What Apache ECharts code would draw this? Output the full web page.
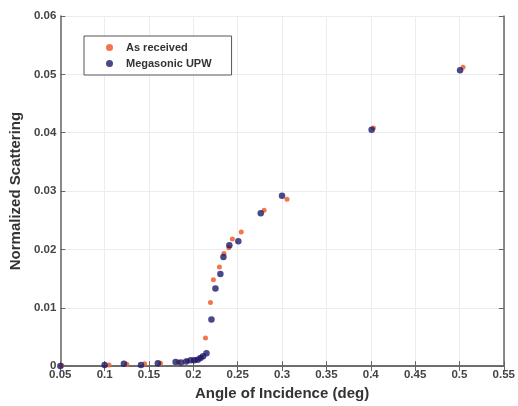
<!DOCTYPE html>
<html>
<head>
<meta charset="utf-8">
<script src="https://cdn.jsdelivr.net/npm/echarts@6/dist/echarts.min.js"></script>
<style>html,body{margin:0;padding:0;background:#fff;}#c{width:518px;height:406px;}</style>
</head>
<body>
<div id="c"></div>
<script>
var seriesNames = ["As received", "Megasonic UPW"];
var asReceived = [
  [0.052, 0.0001], [0.105, 0.0002], [0.125, 0.0003], [0.145, 0.0004], [0.163, 0.0005],
  [0.183, 0.0007], [0.193, 0.0009], [0.203, 0.0011], [0.209, 0.0015], [0.2137, 0.0048],
  [0.2193, 0.0109], [0.2226, 0.0148], [0.2294, 0.0170], [0.2345, 0.0193], [0.240, 0.0203],
  [0.244, 0.0218], [0.254, 0.0230], [0.2798, 0.0267], [0.3056, 0.0286], [0.403, 0.0408],
  [0.504, 0.0512]
];
var megasonic = [
  [0.050, 0.0000], [0.100, 0.0002], [0.1217, 0.0004], [0.141, 0.0002], [0.160, 0.0005],
  [0.180, 0.0007], [0.186, 0.0006], [0.192, 0.0008], [0.197, 0.0010], [0.201, 0.0010],
  [0.205, 0.0011], [0.208, 0.0014], [0.211, 0.0017], [0.2148, 0.0022], [0.2204, 0.0080],
  [0.2249, 0.0133], [0.2305, 0.0158], [0.2339, 0.0187], [0.2406, 0.0207], [0.2507, 0.0214],
  [0.276, 0.0262], [0.300, 0.0292], [0.401, 0.0405], [0.5007, 0.0507]
];
var xTicks = [0.05, 0.1, 0.15, 0.2, 0.25, 0.3, 0.35, 0.4, 0.45, 0.5, 0.55];
var yTicks = [0, 0.01, 0.02, 0.03, 0.04, 0.05, 0.06];
var xTitle = "Angle of Incidence (deg)";
var yTitle = "Normalized Scattering";

var font = "Liberation Sans";
var axisColor = "#666";
var chart = echarts.init(document.getElementById('c'));
function fmt(v){ return String(parseFloat(v.toFixed(4))); }
var axisCommon = {
  type: 'value',
  axisLine: {show: true, lineStyle: {color: axisColor, width: 1.5}},
  axisTick: {show: true, inside: true, length: 5, lineStyle: {color: axisColor}},
  splitLine: {show: false}
};
chart.setOption({
  animation: false,
  backgroundColor: '#fff',
  grid: {left: 59, right: 13, top: 16, bottom: 37, show: false},
  legend: {
    orient: 'vertical', left: 84, top: 36,
    data: seriesNames,
    backgroundColor: '#fff', borderColor: '#555', borderWidth: 1,
    padding: [6, 20, 6, 22], itemGap: 5, itemWidth: 7, itemHeight: 7,
    textStyle: {fontFamily: font, fontWeight: 'bold', fontSize: 11, color: '#333', padding: [0, 0, 0, 8]}
  },
  xAxis: [
    Object.assign({}, axisCommon, {
      min: 0.05, max: 0.55, interval: 0.05, position: 'bottom',
      name: xTitle, nameLocation: 'middle', nameGap: 16,
      nameTextStyle: {fontFamily: font, fontWeight: 'bold', fontSize: 15, color: '#333'},
      axisLabel: {fontFamily: font, fontWeight: 'bold', fontSize: 11.5, color: '#444', margin: 3,
        formatter: function(v){ return fmt(v); }},
      splitLine: {show: true, lineStyle: {color: '#ececec', width: 1}}
    }),
    Object.assign({}, axisCommon, {
      min: 0.05, max: 0.55, interval: 0.05, position: 'top',
      axisLabel: {show: false}
    })
  ],
  yAxis: [
    Object.assign({}, axisCommon, {
      min: 0, max: 0.06, interval: 0.01, position: 'left',
      name: yTitle, nameLocation: 'middle', nameGap: 27,
      nameTextStyle: {fontFamily: font, fontWeight: 'bold', fontSize: 15, color: '#333'},
      axisLabel: {fontFamily: font, fontWeight: 'bold', fontSize: 11.5, color: '#444', margin: 4,
        formatter: function(v){ return fmt(v); }},
      splitLine: {show: true, lineStyle: {color: '#ececec', width: 1}}
    }),
    Object.assign({}, axisCommon, {
      min: 0, max: 0.06, interval: 0.01, position: 'right',
      axisLabel: {show: false}
    })
  ],
  series: [
    {
      name: seriesNames[0], type: 'scatter', data: asReceived, symbol: 'circle', symbolSize: 5,
      itemStyle: {color: '#f0673a', opacity: 0.9}, z: 2, clip: false
    },
    {
      name: seriesNames[1], type: 'scatter', data: megasonic, symbol: 'circle', symbolSize: 6.5,
      itemStyle: {color: '#1c1a6a'}, z: 3, clip: false
    }
  ]
});
</script>
</body>
</html>
